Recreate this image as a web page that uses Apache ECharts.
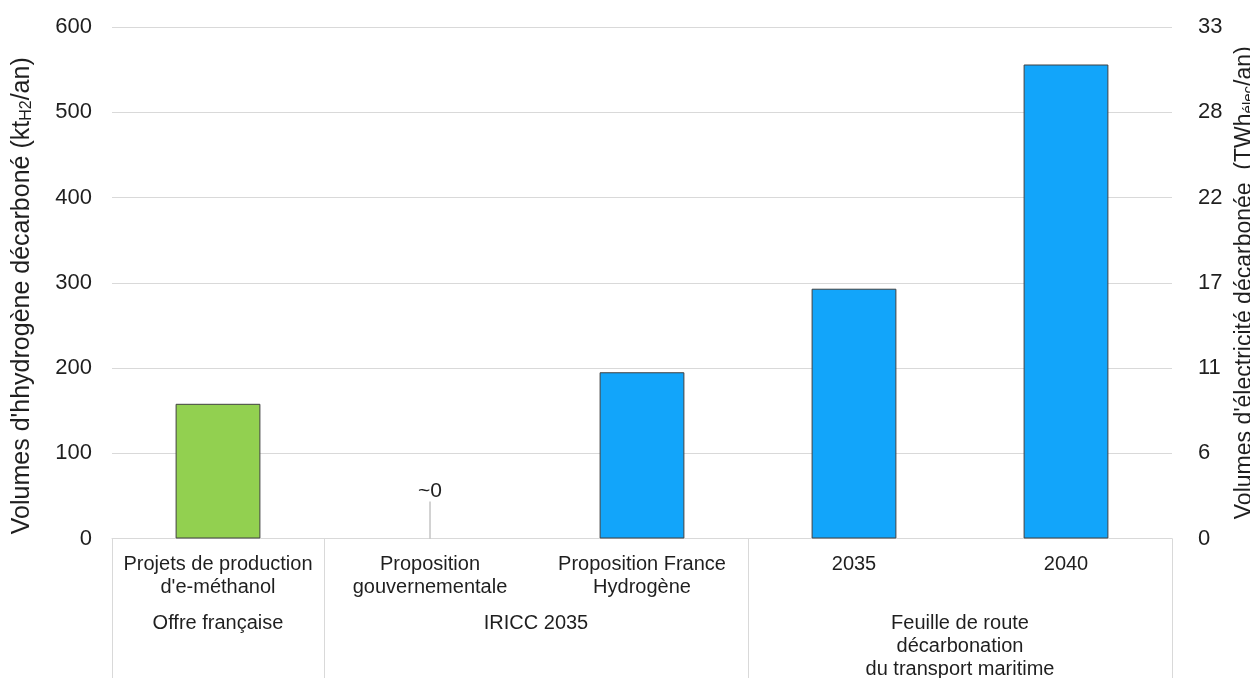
<!DOCTYPE html>
<html>
<head>
<meta charset="utf-8">
<script src="https://cdn.jsdelivr.net/npm/echarts@6/dist/echarts.min.js"></script>
<style>
  html, body { margin: 0; padding: 0; background: #fff; }
  #chart { width: 1250px; height: 678px; }
</style>
</head>
<body>
<div id="chart"></div>
<script>
// Scenario categories (first label row under the bars)
const categories = [
  "Projets de production\nd'e-méthanol",
  "Proposition\ngouvernementale",
  "Proposition France\nHydrogène",
  "2035",
  "2040"
];
// Decarbonised hydrogen volumes, kt H2 per year
const volumes = [158, 0, 195, 293, 556];
// Source of each scenario: French supply vs. maritime targets
const barKind = ["offre", "cible", "cible", "cible", "cible"];
// Groups of categories (second label row): name, first index, last index
const groupNames = ["Offre française", "IRICC 2035", "Feuille de route\ndécarbonation\ndu transport maritime"];
const groupStart = [0, 1, 3];
const groupEnd = [0, 2, 4];
// Axis ranges
const leftMax = 600, leftStep = 100;
const rightMax = 33, rightStep = 5.5;

const FONT = "'Liberation Sans', Arial, sans-serif";
const TXT = '#1f1f1f';
const LINE = '#d9d9d9';
const COLORS = { offre: '#92d050', cible: '#12a5fa' };

// Group boundaries and label centres on a 0..n continuous scale
const boundaries = [0].concat(groupEnd.map(e => e + 1));
const centres = groupStart.map((s, i) => (s + groupEnd[i] + 1) / 2);

const chart = echarts.init(document.getElementById('chart'), null, { renderer: 'canvas' });

chart.setOption({
  animation: false,
  textStyle: { fontFamily: FONT, color: TXT },
  grid: { left: 112, right: 78, top: 27, bottom: 139.5, containLabel: false, outerBoundsMode: 'none' },
  xAxis: [
    {
      type: 'category',
      data: categories,
      axisLine: { lineStyle: { color: LINE, width: 1 } },
      axisTick: { show: false },
      axisLabel: { color: TXT, fontSize: 20, lineHeight: 23, margin: 14, fontFamily: FONT, interval: 0 },
      splitLine: { show: false }
    },
    {
      type: 'value',
      min: 0,
      max: categories.length,
      position: 'bottom',
      axisLine: { show: false },
      splitLine: { show: false },
      axisTick: {
        show: true,
        customValues: boundaries,
        length: 141,
        lineStyle: { color: LINE, width: 1 }
      },
      axisLabel: {
        show: true,
        customValues: centres,
        margin: 73,
        color: TXT,
        fontSize: 20,
        lineHeight: 23,
        fontFamily: FONT,
        verticalAlign: 'top',
        formatter: v => {
          const i = centres.findIndex(c => Math.abs(c - v) < 1e-6);
          return i >= 0 ? groupNames[i] : '';
        }
      }
    }
  ],
  yAxis: [
    {
      type: 'value',
      min: 0,
      max: leftMax,
      interval: leftStep,
      position: 'left',
      axisLine: { show: false },
      axisTick: { show: false },
      axisLabel: { color: TXT, fontSize: 22, margin: 20, fontFamily: FONT },
      splitLine: { lineStyle: { color: LINE, width: 1 } },
      name: "Volumes d'hhydrogène décarboné (kt{sub|H2}/an)",
      nameLocation: 'middle',
      nameGap: 77,
      nameTextStyle: {
        color: TXT, fontSize: 25, fontFamily: FONT,
        padding: [0, 26, 0, 0],
        rich: { sub: { fontSize: 16, color: TXT, fontFamily: FONT, padding: [8, 0, 0, 0] } }
      }
    },
    {
      type: 'value',
      min: 0,
      max: rightMax,
      interval: rightStep,
      position: 'right',
      axisLine: { show: false },
      axisTick: { show: false },
      axisLabel: {
        color: TXT, fontSize: 22, margin: 26, fontFamily: FONT,
        formatter: v => String(Math.round(v))
      },
      splitLine: { show: false },
      name: "Volumes d'électricité décarbonée  (TWh{sub|élec}/an)",
      nameLocation: 'middle',
      nameGap: 55,
      nameTextStyle: {
        color: TXT, fontSize: 23, fontFamily: FONT,
        rich: { sub: { fontSize: 15, color: TXT, fontFamily: FONT, padding: [8, 0, 0, 0] } }
      }
    }
  ],
  series: [
    {
      type: 'bar',
      xAxisIndex: 0,
      yAxisIndex: 0,
      barWidth: '40%',
      data: volumes.map((v, i) => ({
        value: v,
        itemStyle: {
          color: v === 0 ? 'rgba(0,0,0,0)' : COLORS[barKind[i]],
          borderColor: '#404040',
          borderWidth: v === 0 ? 0 : 1
        },
        label: v === 0
          ? { show: true, position: 'top', formatter: '~0', fontSize: 21, color: TXT, fontFamily: FONT }
          : { show: false }
      })),
      labelLayout: p => (p.dataIndex === volumes.indexOf(0) ? { dy: -32 } : {}),
      labelLine: { show: true, length2: 0, lineStyle: { color: '#a6a6a6', width: 1 } }
    }
  ]
});
</script>
</body>
</html>
